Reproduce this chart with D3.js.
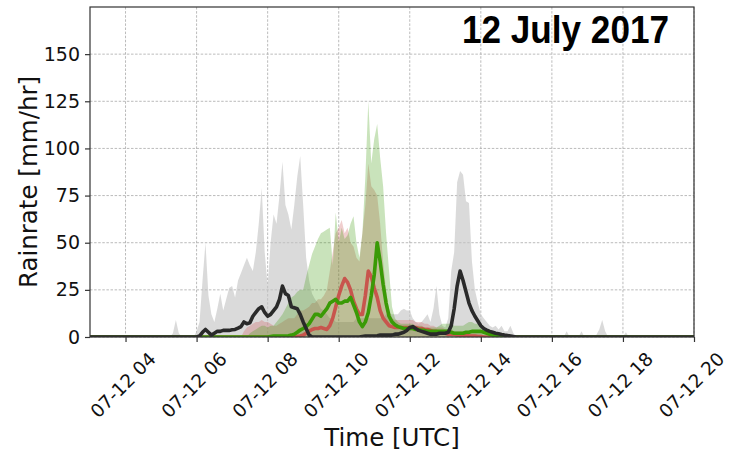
<!DOCTYPE html>
<html>
<head>
<meta charset="utf-8">
<script src="https://cdn.jsdelivr.net/npm/d3@7"></script>
<style>
body { margin: 0; background: #fff; }
svg { font-family: "DejaVu Sans", sans-serif; }
</style>
</head>
<body>
<script>

// rain rates [mm/hr] every 5 minutes, 12 July 2017, 03:00 -> 20:00 UTC
// one row = one hour (03, 04, ... 19), last single value = 20:00

// ensemble envelope, grey member set
var greyMax = [
  0,0,0,0,0,0,0,0,0,0,0,0,
  0,0,0,0,0,0,0,0,0,0,0,0,
  0,0,0,0,2,9,2,0,0,0,0,0,
  3,8,30,50,22,12,8,15,23,14,20,26,
  27,21,30,34,38,42,38,35,45,60,79,45,
  27,50,65,60,75,93,70,65,57,70,85,96,
  70,42,30,23,20,18,15,14,12,10,10,8,
  8,8,8,8,8,8,10,10,10,10,10,10,
  10,10,10,10,12,12,12,12,12,14,15,14,
  14,10,8,7,8,10,12,8,15,27,12,6,
  5,10,35,45,82,88,86,72,71,40,25,18,
  12,10,8,6,5,6,4,6,3,3,6,2,
  0.5,0,0,0,0,0,0,0,0,0,0,0,
  0,0,0,0,0,3,0,0,0,0,3,0,
  0,0,0,1,4,9,3,0,0,0,0,0,
  0,2.5,0,0,0,0,0,0,0,0,0,0,
  0,0,0,0,0,0,0,0,0,0,0,0,
  0
];

// ensemble envelope, red member set
var redMax = [
  0,0,0,0,0,0,0,0,0,0,0,0,
  0,0,0,0,0,0,0,0,0,0,0,0,
  0,0,0,0,0,0,0,0,0,0,0,0,
  0,0,0,0,0,0,0,0,0,0,0,0,
  0,0,0,0,3,5,6,7,8,8,9,8,
  8,7,6,6,7,8,9,10,10,10,12,14,
  14,15,16,18,18,20,20,22,25,35,45,55,
  58,62,55,58,50,48,42,40,55,70,92,80,
  78,75,60,40,25,15,10,9,9,9,9,9,
  9,9,8,8,8,7,7,6,6,5,5,5,
  4,4,4,3,3,3,3,3,3,2,2,2,
  2,1,0.5,0,0,0,0,0,0,0,0,0,
  0,0,0,0,0,0,0,0,0,0,0,0,
  0,0,0,0,0,0,0,0,0,0,0,0,
  0,0,0,0,0,0,0,0,0,0,0,0,
  0,0,0,0,0,0,0,0,0,0,0,0,
  0,0,0,0,0,0,0,0,0,0,0,0,
  0
];

// ensemble envelope, green member set
var greenMax = [
  0,0,0,0,0,0,0,0,0,0,0,0,
  0,0,0,0,0,0,0,0,0,0,0,0,
  0,0,0,0,0,0,0,0,0,0,0,0,
  0,0,0,0,0,0,0,0,0,0,0,0,
  0,0,0,0,0,0,2,3,4,5,6,6,
  5,6,6,8,10,12,15,18,21,22,24,25,
  25,32,38,44,48,52,55,56,57,58,38,66,
  50,58,52,54,60,64,50,42,55,85,125,92,
  105,113,95,80,55,35,16,10,8,7,7,7,
  7,7,6,6,6,5,5,5,5,5,6,7,
  7,7,7,6,6,6,6,7,8,8,7,7,
  7,5,4,3,2,1,0.5,0,0,0,0,0,
  0,0,0,0,0,0,0,0,0,0,0,0,
  0,0,0,0,0,0,0,0,0,0,0,0,
  0,0,0,0,0,0,0,0,0,0,0,0,
  0,0,0,0,0,0,0,0,0,0,0,0,
  0,0,0,0,0,0,0,0,0,0,0,0,
  0
];

// red run
var redLine = [
  0,0,0,0,0,0,0,0,0,0,0,0,
  0,0,0,0,0,0,0,0,0,0,0,0,
  0,0,0,0,0,0,0,0,0,0,0,0,
  0,0,0,0,0,0,0,0,0,0,0,0,
  0,0,0,0,0,0,0,0,0,0,0,0,
  0,0,0,0,0,0,0,0,0,0,0.3,0.5,
  1,2,3,4,4.5,4.5,5,4.5,4,6,10,16,
  22,27,31,29,25,19,15,12,12,22,35,32,
  26,21,14,10,8,6,5.5,5,5,5,5,5,
  5,5,5,4.5,4.5,4,4,3.5,3,3,2.5,2,
  2,1.5,1.5,1.5,1,1,1,1,0.7,0.5,0.5,0.3,
  0.2,0,0,0,0,0,0,0,0,0,0,0,
  0,0,0,0,0,0,0,0,0,0,0,0,
  0,0,0,0,0,0,0,0,0,0,0,0,
  0,0,0,0,0,0,0,0,0,0,0,0,
  0,0,0,0,0,0,0,0,0,0,0,0,
  0,0,0,0,0,0,0,0,0,0,0,0,
  0
];

// green run
var greenLine = [
  0,0,0,0,0,0,0,0,0,0,0,0,
  0,0,0,0,0,0,0,0,0,0,0,0,
  0,0,0,0,0,0,0,0,0,0,0,0,
  0,0,0,0,0,0,0,0,0,0,0,0,
  0,0,0,0,0,0,0,0,0,0,0,0,
  0,0.3,0.5,0.5,0.5,0.5,0.5,0.7,1,1.5,2.5,3.7,
  4.5,5.5,7,9.5,12,12,11,13,15,18,19,20,
  18,18,19,19,21,17,13,8,5.5,8,13,22,
  33,50,40,28,18,11,8,6.5,5.5,5,4.5,4.5,
  4.5,4.5,4,4,3.5,3.5,3,3,3,3,3,3,
  3,3,2.5,2,2,2,2,2.5,2.5,3,3,3,
  3,2.5,2,1.5,1,0.5,0.3,0,0,0,0,0,
  0,0,0,0,0,0,0,0,0,0,0,0,
  0,0,0,0,0,0,0,0,0,0,0,0,
  0,0,0,0,0,0,0,0,0,0,0,0,
  0,0,0,0,0,0,0,0,0,0,0,0,
  0,0,0,0,0,0,0,0,0,0,0,0,
  0
];

// observed (black)
var obsLine = [
  0,0,0,0,0,0,0,0,0,0,0,0,
  0,0,0,0,0,0,0,0,0,0,0,0,
  0,0,0,0,0,0,0,0,0,0,0,0,
  0,0.5,2.5,4,2.5,1,2,3,3,3.5,3.5,3.5,
  3.8,4,4.7,5.5,8,7,7.5,11,13,15,16,13,
  11,12,14,16,20,27,23,22,16,15.5,15,12,
  8,4.5,1,0,0,0,0,0,0,0,0,0,
  0,0,0,0,0,0,0,0,0.3,0.5,0.5,0.5,
  0.5,0.7,1,1,1,1,1,1.5,1.5,2,2.5,3.5,
  5,5.5,4.5,3.5,3,2.5,2,1.5,1.5,1.5,2,2,
  2,2.5,6,15,27,35,30,24,18,14,11,8.5,
  6,4.5,3.7,3,2.5,2,1.7,1.3,1,0.8,0.5,0.2,
  0,0,0,0,0,0,0,0,0,0,0,0,
  0,0,0,0,0,0,0,0,0,0,0,0,
  0,0,0,0,0,0,0,0,0,0,0,0,
  0,0,0,0,0,0,0,0,0,0,0,0,
  0,0,0,0,0,0,0,0,0,0,0,0,
  0
];

var yTicks = [0, 25, 50, 75, 100, 125, 150];
var xTickHours = [4, 6, 8, 10, 12, 14, 16, 18, 20];
var titleText = "12 July 2017";

// set the dimensions and margins of the graph
var margin = {top: 7, right: 36, bottom: 118, left: 90},
    width = 730 - margin.left - margin.right,
    height = 455 - margin.top - margin.bottom;

var t0 = new Date(Date.UTC(2017, 6, 12, 3)),
    t1 = new Date(Date.UTC(2017, 6, 12, 20));

// one time stamp per value
var times = d3.utcMinute.every(5).range(t0, new Date(t1.getTime() + 60000));

// set the ranges
var x = d3.scaleUtc().domain([t0, t1]).range([0, width]);
var y = d3.scaleLinear().domain([0, 175]).range([height, 0]);

var svg = d3.select("body").append("svg")
    .attr("width", 730)
    .attr("height", 455)
  .append("g")
    .attr("transform", "translate(" + margin.left + "," + margin.top + ")");

svg.append("clipPath").attr("id", "plotclip")
  .append("rect").attr("width", width).attr("height", height);

var xTickDates = xTickHours.map(function(h) { return new Date(Date.UTC(2017, 6, 12, h)); });

// grid
svg.append("g").selectAll("line")
    .data(xTickDates)
  .enter().append("line")
    .attr("x1", function(d) { return x(d); })
    .attr("x2", function(d) { return x(d); })
    .attr("y1", 0).attr("y2", height)
    .attr("stroke", "#aaa").attr("stroke-width", 0.8)
    .attr("stroke-dasharray", "2.5,1.6");
svg.append("g").selectAll("line")
    .data(yTicks)
  .enter().append("line")
    .attr("x1", 0).attr("x2", width)
    .attr("y1", function(d) { return y(d); })
    .attr("y2", function(d) { return y(d); })
    .attr("stroke", "#aaa").attr("stroke-width", 0.8)
    .attr("stroke-dasharray", "2.5,1.6");

var plot = svg.append("g").attr("clip-path", "url(#plotclip)");

function series(vals) {
  return vals.map(function(v, i) { return {t: times[i], v: v}; });
}

var area = d3.area()
    .x(function(d) { return x(d.t); })
    .y0(y(0))
    .y1(function(d) { return y(d.v); });

var line = d3.line()
    .x(function(d) { return x(d.t); })
    .y(function(d) { return y(d.v); });

// envelopes
plot.append("path").datum(series(greyMax))
    .attr("d", area).attr("fill", "#c4c4c4").attr("fill-opacity", 0.62);
plot.append("path").datum(series(redMax))
    .attr("d", area).attr("fill", "#cd5c5c").attr("fill-opacity", 0.3);
plot.append("path").datum(series(greenMax))
    .attr("d", area).attr("fill", "#3d9a0a").attr("fill-opacity", 0.28);

// runs
plot.append("path").datum(series(redLine))
    .attr("d", line).attr("fill", "none")
    .attr("stroke", "#c8554d").attr("stroke-width", 3.6).attr("stroke-linejoin", "round");
plot.append("path").datum(series(greenLine))
    .attr("d", line).attr("fill", "none")
    .attr("stroke", "#3a9a06").attr("stroke-width", 3.6).attr("stroke-linejoin", "round");
plot.append("path").datum(series(obsLine))
    .attr("d", line).attr("fill", "none")
    .attr("stroke", "#2a2a2a").attr("stroke-width", 3.6).attr("stroke-linejoin", "round");

// frame
svg.append("rect")
    .attr("width", width).attr("height", height)
    .attr("fill", "none").attr("stroke", "#333").attr("stroke-width", 1.2);

// add the x Axis
var xAxis = svg.append("g")
    .attr("transform", "translate(0," + height + ")")
    .call(d3.axisBottom(x)
      .tickValues(xTickDates)
      .tickFormat(d3.utcFormat("%m-%d %H"))
      .tickSize(5).tickSizeOuter(0));
xAxis.select(".domain").remove();
xAxis.selectAll(".tick line").attr("stroke", "#333").attr("stroke-width", 1.2);
// labels turned 45 degrees, centred under their tick
xAxis.selectAll(".tick text")
    .attr("y", 0).attr("dy", "0.35em")
    .attr("text-anchor", "middle")
    .attr("transform", "translate(-3,48) rotate(-45)")
    .attr("font-size", 18.5).attr("font-family", "DejaVu Sans").attr("fill", "#111");

// add the y Axis
var yAxis = svg.append("g")
    .call(d3.axisLeft(y).tickValues(yTicks).tickSize(5).tickPadding(5).tickSizeOuter(0));
yAxis.select(".domain").remove();
yAxis.selectAll(".tick line").attr("stroke", "#333").attr("stroke-width", 1.2);
yAxis.selectAll(".tick text")
    .attr("font-size", 19).attr("font-family", "DejaVu Sans").attr("fill", "#111");

// axis labels
svg.append("text")
    .attr("x", width / 2).attr("y", 439)
    .attr("text-anchor", "middle")
    .attr("font-size", 24.5).attr("fill", "#111")
    .text("Time [UTC]");
svg.append("text")
    .attr("transform", "translate(" + (37 - margin.left) + "," + (height / 2 + 10) + ") rotate(-90)")
    .attr("text-anchor", "middle")
    .attr("font-size", 24.5).attr("fill", "#111")
    .text("Rainrate [mm/hr]");

// date label
svg.append("text")
    .attr("x", 462 - margin.left).attr("y", 43 - margin.top)
    .attr("font-family", "'Liberation Sans Narrow', 'Liberation Sans', Arial, sans-serif")
    .attr("font-weight", "bold")
    .attr("font-size", 38)
    .attr("textLength", 207).attr("lengthAdjust", "spacingAndGlyphs")
    .attr("fill", "#000")
    .text(titleText);

</script>
</body>
</html>
